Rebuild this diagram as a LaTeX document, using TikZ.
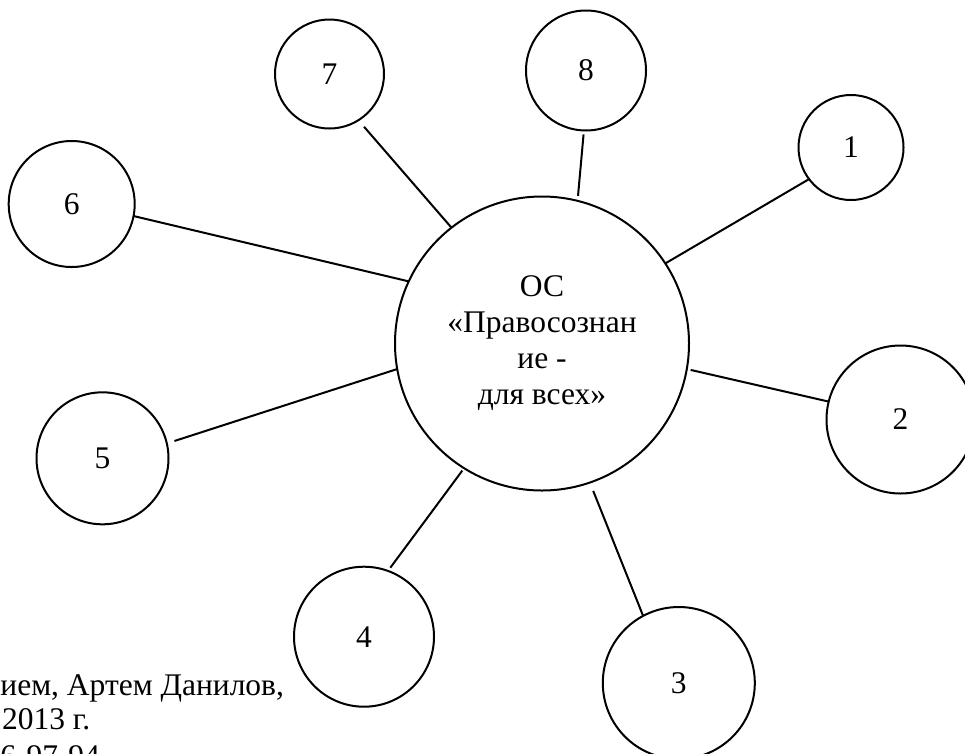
\documentclass[tikz,border=0pt]{standalone}
\usepackage{fontspec}
\setmainfont{Liberation Serif}
\begin{document}
\begin{tikzpicture}[x=1pt,y=-1pt,
  every node/.style={font=\fontsize{31.5}{36}\selectfont},
  ring/.style={draw,circle,line width=2pt,inner sep=0pt,outer sep=0pt},
  link/.style={line width=2pt},
  txt/.style={inner sep=0pt,outer sep=0pt}]
\useasboundingbox (0,0) rectangle (965,753);
\clip (0,0) rectangle (965,753);
% centre
\node[ring,minimum size=294pt,align=center] (c) at (542,343.5)
  {ОС\\«Правосознан\\ие -\\для всех»};
% satellites
\node[ring,minimum size=109pt] (n7) at (329.5,74) {7};
\node[ring,minimum size=120pt] (n8) at (586,70.5) {8};
\node[ring,minimum size=105pt] (n1) at (851,147.5) {1};
\node[ring,minimum size=126pt] (n6) at (71.7,204) {6};
\node[ring,minimum size=148pt] (n2) at (900.5,419.5) {2};
\node[ring,minimum size=132pt] (n5) at (102.5,458.3) {5};
\node[ring,minimum size=140pt] (n4) at (364,636.7) {4};
\node[ring,minimum size=152pt] (n3) at (678.8,683) {3};
% connectors
\draw[link,shorten >=8.6pt] (c.128.6) -- (n7.-58.3);
\draw[link,shorten <=5pt,shorten >=4pt] (c.76.8) -- (n8.-92.4);
\draw[link] (c.33.6) -- (n1.217.7);
\draw[link] (c.155.2) -- (n6.-11.9);
\draw[link,shorten <=4pt] (c.-10.7) -- (n2.166.2);
\draw[link,shorten >=8pt] (c.190.3) -- (n5.13.8);
\draw[link,shorten <=3pt,shorten >=4pt] (c.238.5) -- (n4.70.9);
\draw[link,shorten <=9pt] (c.-71.5) -- (n3.118.6);
% bottom-left text (cut off at the edges, as in the reference)
\node[txt,anchor=base east] (t1) at (284,695) {ием, Артем Данилов,};
\node[txt,anchor=base west] (t2) at (2,729) {2013 г.};
\node[txt,anchor=base east] (t3) at (100,766) {56-97-94};
\end{tikzpicture}
\end{document}
